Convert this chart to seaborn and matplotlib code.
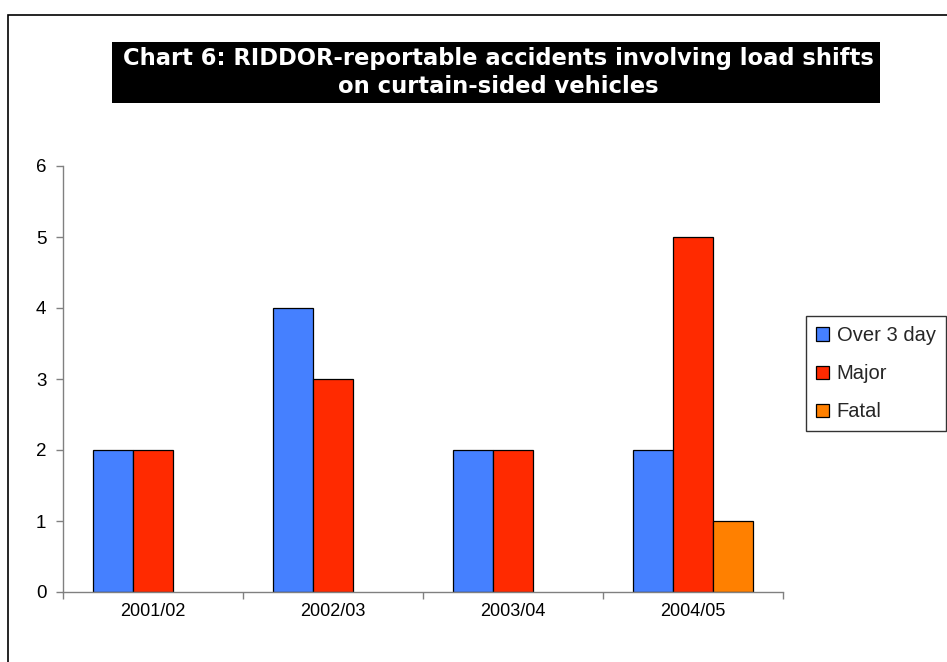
import matplotlib
matplotlib.use("Agg")
import matplotlib.pyplot as plt
import seaborn as sns
import pandas as pd
from matplotlib.patches import Rectangle
from matplotlib.ticker import FixedLocator

years = ["2001/02", "2002/03", "2003/04", "2004/05"]
series = ["Over 3 day", "Major", "Fatal"]
over3day = [2, 4, 2, 2]
major = [2, 3, 2, 5]
fatal = [0, 0, 0, 1]
colors = ["#4580FF", "#FF2A00", "#FF8000"]
title = "Chart 6: RIDDOR-reportable accidents involving load shifts\non curtain-sided vehicles"

sns.set_theme(style="white")
plt.rcParams["font.family"] = ["Liberation Sans", "DejaVu Sans"]

rows = []
for s, vals in zip(series, [over3day, major, fatal]):
    for y, v in zip(years, vals):
        rows.append({"year": y, "type": s, "count": v})
df = pd.DataFrame(rows)
df_plot = df[df["count"] > 0]

W, H = 947, 662
fig = plt.figure(figsize=(W / 100, H / 100), dpi=100)
fig.patch.set_facecolor("white")
ax = fig.add_axes([63 / W, 70 / H, 720 / W, 426 / H])

sns.barplot(data=df_plot, x="year", y="count", hue="type", order=years,
            hue_order=series, palette=colors, width=0.667, edgecolor="black",
            linewidth=0.9, saturation=1, ax=ax, legend=True)

ax.set_xlim(-0.5, 3.5)
ax.set_ylim(0, 6)
ax.set_yticks(range(0, 7))
ax.set_xlabel("")
ax.set_ylabel("")
for sp in ["top", "right"]:
    ax.spines[sp].set_visible(False)
for sp in ["left", "bottom"]:
    ax.spines[sp].set_color("#808080")
    ax.spines[sp].set_linewidth(1)
ax.tick_params(axis="y", which="major", length=5, width=1, color="#808080",
               direction="out", pad=7, labelsize=13.5, left=True)
ax.tick_params(axis="x", which="major", length=0, pad=8, labelsize=13)
ax.xaxis.set_minor_locator(FixedLocator([-0.5, 0.5, 1.5, 2.5, 3.5]))
ax.tick_params(axis="x", which="minor", length=5, width=1, color="#808080",
               direction="out", bottom=True)
for lab in ax.get_xticklabels() + ax.get_yticklabels():
    lab.set_color("black")
ax.grid(False)

# legend
ax.get_legend().remove()
handles = [Rectangle((0, 0), 1, 1, facecolor=c, edgecolor="black", linewidth=0.9) for c in colors]
leg = fig.legend(handles, series, loc="upper left",
                 bbox_to_anchor=(806 / W, 1 - 316 / H), borderaxespad=0,
                 frameon=True, fancybox=False, edgecolor="black", fontsize=14.5,
                 handlelength=0.62, handleheight=0.62, handletextpad=0.4,
                 labelspacing=0.95, borderpad=0.5)
leg.get_frame().set_linewidth(1)

# title block
fig.patches.append(Rectangle((112 / W, 1 - 103 / H), 768 / W, 61 / H,
                             transform=fig.transFigure, facecolor="black",
                             edgecolor="none", zorder=0))
fig.text(498 / W, 1 - 72.5 / H, title, ha="center", va="center", color="white",
         fontsize=16.3, fontweight="bold", linespacing=1.32,
         family=["DejaVu Sans"])

# outer border
fig.patches.append(Rectangle((8 / W, -0.05), 1.0, 1 - 15 / H + 0.05,
                             transform=fig.transFigure, facecolor="none",
                             edgecolor="black", linewidth=1.2, zorder=0))

fig.savefig("out.png", dpi=100, facecolor="white")
